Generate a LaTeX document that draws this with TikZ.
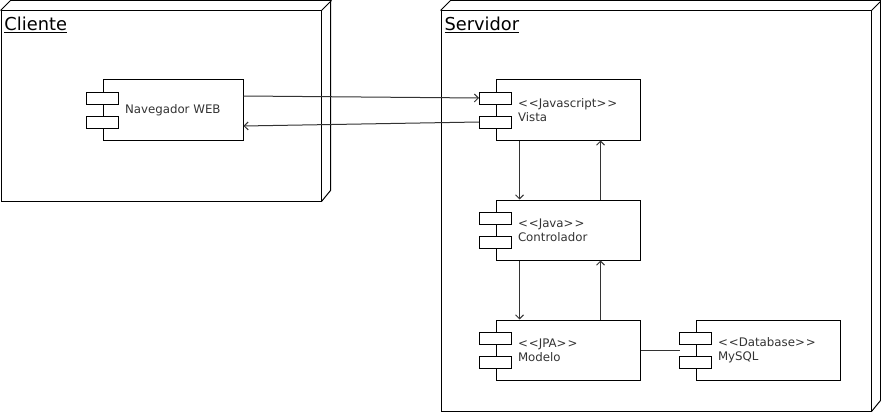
\documentclass[tikz,border=0pt]{standalone}
\usepackage{fontspec}
\setmainfont{DejaVu Sans}
\usetikzlibrary{arrows.meta}

\begin{document}
\begin{tikzpicture}[x=1pt, y=-1pt, line width=1pt,
    nodebox/.style={rectangle, draw, anchor=north west, inner sep=0pt},
    comp/.style={rectangle, draw, minimum width=144pt, minimum height=60pt, inner sep=0pt},
    port/.style={rectangle, draw, fill=white, minimum width=32pt, minimum height=12pt, inner sep=0pt},
    compname/.style={anchor=west, align=left, inner sep=0pt, font=\fontsize{11.8}{14}\selectfont, text=black!80},
    title/.style={anchor=base west, inner sep=0pt, font=\fontsize{17.8}{20}\selectfont},
    flow/.style={draw=black!80, -{Straight Barb[length=4pt,width=8pt]}}]
    \useasboundingbox (0,0) rectangle (881,412);

    % Deployment nodes
    \node [nodebox, minimum width=320pt, minimum height=190pt] (cliente) at (0.5,10.5) {};
    \draw (cliente.north west) -- ++(10,-10) -- ++(320,0) -- ++(0,190) -- (cliente.south east);
    \draw (cliente.north east) -- ++(10,-10);
    \node [title] (tcliente) at (4,31) {\underline{Cliente}};

    \node [nodebox, minimum width=430pt, minimum height=400pt] (servidor) at (440.5,10.5) {};
    \draw (servidor.north west) -- ++(10,-10) -- ++(430,0) -- ++(0,400) -- (servidor.south east);
    \draw (servidor.north east) -- ++(10,-10);
    \node [title] (tservidor) at (444,31) {\underline{Servidor}};

    % Components
    \node [comp, minimum width=140pt] (nav) at (173,110) {};
    \node [port] (navA) at ([yshift=12pt]nav.west) {};
    \node [port] (navB) at ([yshift=-12pt]nav.west) {};
    \node [compname] (navtxt) at ([xshift=22pt]nav.west) {Navegador WEB};

    \node [comp] (vista) at (568,110) {};
    \node [port] (vistaA) at ([yshift=12pt]vista.west) {};
    \node [port] (vistaB) at ([yshift=-12pt]vista.west) {};
    \node [compname] (vistatxt) at ([xshift=22pt]vista.west) {<\kern1pt<Javascript>\kern1pt>\\Vista};

    \node [comp] (ctrl) at (568,230) {};
    \node [port] (ctrlA) at ([yshift=12pt]ctrl.west) {};
    \node [port] (ctrlB) at ([yshift=-12pt]ctrl.west) {};
    \node [compname] (ctrltxt) at ([xshift=22pt]ctrl.west) {<\kern1pt<Java>\kern1pt>\\Controlador};

    \node [comp] (modelo) at (568,350) {};
    \node [port] (modeloA) at ([yshift=12pt]modelo.west) {};
    \node [port] (modeloB) at ([yshift=-12pt]modelo.west) {};
    \node [compname] (modelotxt) at ([xshift=22pt]modelo.west) {<\kern1pt<JPA>\kern1pt>\\Modelo};

    \node [comp] (mysql) at (768,350) {};
    \node [port] (mysqlA) at ([yshift=12pt]mysql.west) {};
    \node [port] (mysqlB) at ([yshift=-12pt]mysql.west) {};
    \node [compname] (mysqltxt) at ([xshift=22pt]mysql.west) {<\kern1pt<Database>\kern1pt>\\MySQL};

    % Connectors
    \draw [flow] ([yshift=14pt]nav.east) -- (vistaA.west);
    \draw [flow] (vistaB.west) -- ([yshift=-16pt]nav.east);
    \draw [flow] ([xshift=24pt]vista.south west) -- ([xshift=24pt]ctrl.north west);
    \draw [flow] ([xshift=-40pt]ctrl.north east) -- ([xshift=-40pt]vista.south east);
    \draw [flow] ([xshift=24pt]ctrl.south west) -- ([xshift=24pt]modelo.north west);
    \draw [flow] ([xshift=-40pt]modelo.north east) -- ([xshift=-40pt]ctrl.south east);
    \draw [draw=black!80] (modelo.east) -- ([xshift=-16pt]mysql.west);
\end{tikzpicture}
\end{document}
